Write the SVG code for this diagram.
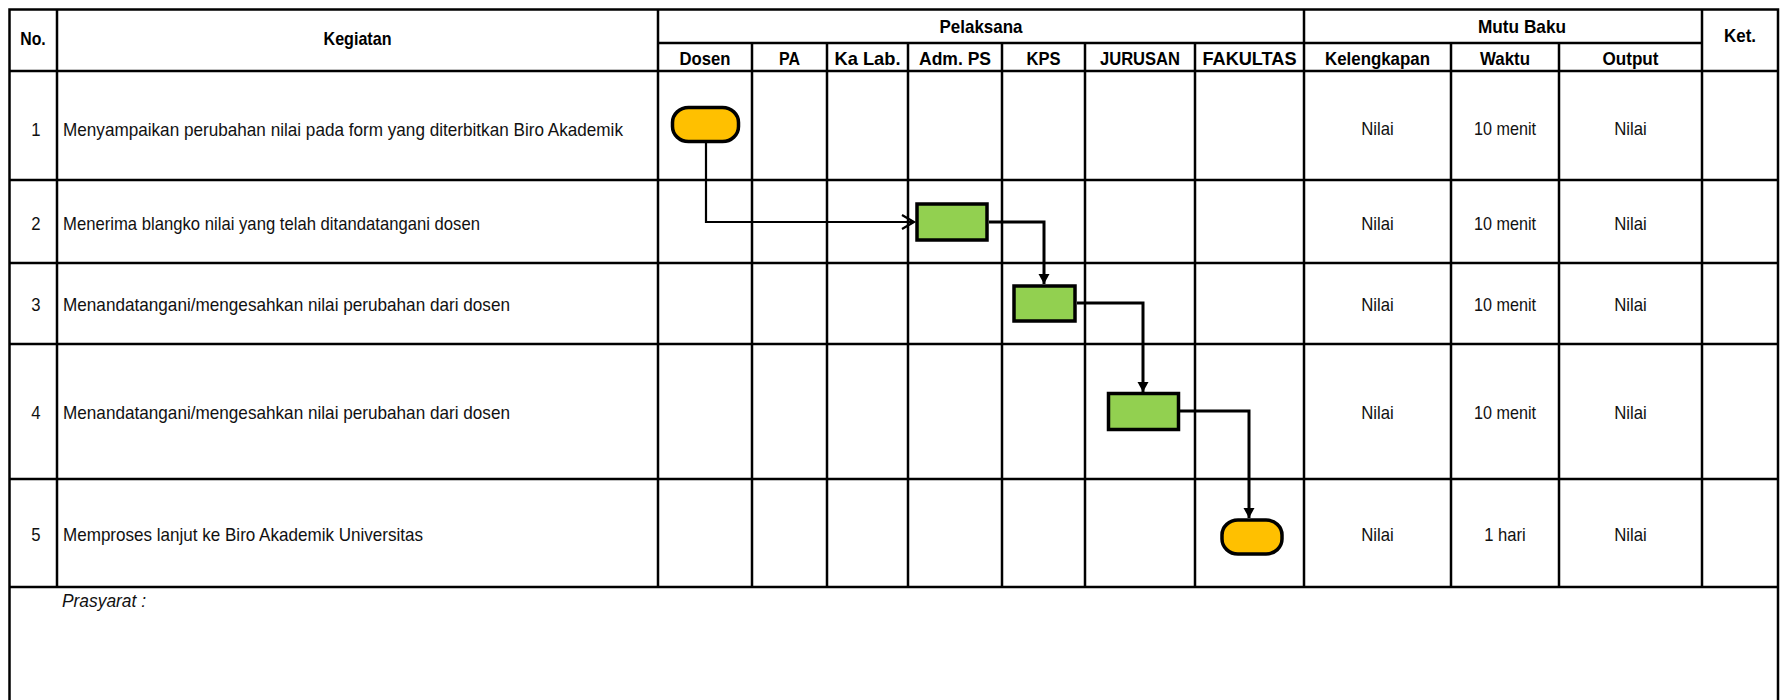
<svg xmlns="http://www.w3.org/2000/svg" width="1784" height="700" viewBox="0 0 1784 700">
<style>
.grid{stroke:#000;stroke-width:2.5;fill:none}
.t{font-family:"Liberation Sans Narrow","Liberation Sans",Arial,sans-serif;font-size:19px;fill:#111}
.b{font-weight:bold;fill:#000}
.c{text-anchor:middle}
.i{font-style:italic}
.term{fill:#FFC000;stroke:#000;stroke-width:3.5}
.proc{fill:#92D050;stroke:#000;stroke-width:3.5}
.conn{fill:none;stroke:#000;stroke-width:3}
</style>
<defs>
<marker id="open" markerUnits="userSpaceOnUse" markerWidth="16" markerHeight="18" refX="13" refY="8" orient="auto">
<path d="M1,1 L13,8 L1,15" fill="none" stroke="#000" stroke-width="2.2"/>
</marker>
<marker id="tri" markerUnits="userSpaceOnUse" markerWidth="12" markerHeight="12" refX="10" refY="5.5" orient="auto">
<path d="M0,0 L10,5.5 L0,11 Z" fill="#000"/>
</marker>
</defs>
<rect width="1784" height="700" fill="#fff"/>
<g id="table">
<path class="grid" d="M9.5,700 V9.5 H1778 V700"/>
<path class="grid" d="M658,43 H1702 M9,71 H1778 M9,180 H1778 M9,263 H1778 M9,344 H1778 M9,479 H1778 M9,587 H1778"/>
<path class="grid" d="M57,9 V587 M658,9 V587 M1304,9 V587 M1702,9 V587 M752,43 V587 M827,43 V587 M908,43 V587 M1002,43 V587 M1085,43 V587 M1195,43 V587 M1451,43 V587 M1559,43 V587"/>
</g>
<g id="headers">
<text class="t b c" x="33" y="45" textLength="25.5" lengthAdjust="spacingAndGlyphs">No.</text>
<text class="t b c" x="357.5" y="45" textLength="68" lengthAdjust="spacingAndGlyphs">Kegiatan</text>
<text class="t b c" x="981" y="33" textLength="83" lengthAdjust="spacingAndGlyphs">Pelaksana</text>
<text class="t b c" x="1522" y="33" textLength="88" lengthAdjust="spacingAndGlyphs">Mutu Baku</text>
<text class="t b c" x="1740" y="42" textLength="32" lengthAdjust="spacingAndGlyphs">Ket.</text>
<text class="t b c" x="705" y="65" textLength="51" lengthAdjust="spacingAndGlyphs">Dosen</text>
<text class="t b c" x="789.5" y="65" textLength="21" lengthAdjust="spacingAndGlyphs">PA</text>
<text class="t b c" x="867.5" y="65" textLength="66" lengthAdjust="spacingAndGlyphs">Ka Lab.</text>
<text class="t b c" x="955" y="65" textLength="72" lengthAdjust="spacingAndGlyphs">Adm. PS</text>
<text class="t b c" x="1043.5" y="65" textLength="34" lengthAdjust="spacingAndGlyphs">KPS</text>
<text class="t b c" x="1140" y="65" textLength="80" lengthAdjust="spacingAndGlyphs">JURUSAN</text>
<text class="t b c" x="1249.5" y="65" textLength="94" lengthAdjust="spacingAndGlyphs">FAKULTAS</text>
<text class="t b c" x="1377.5" y="65" textLength="105" lengthAdjust="spacingAndGlyphs">Kelengkapan</text>
<text class="t b c" x="1505" y="65" textLength="50" lengthAdjust="spacingAndGlyphs">Waktu</text>
<text class="t b c" x="1630.5" y="65" textLength="56" lengthAdjust="spacingAndGlyphs">Output</text>
</g>
<g id="row1">
<text class="t c" x="36" y="136" textLength="9.3" lengthAdjust="spacingAndGlyphs">1</text>
<text class="t" x="63" y="136" textLength="560" lengthAdjust="spacingAndGlyphs">Menyampaikan perubahan nilai pada form yang diterbitkan Biro Akademik</text>
<text class="t c" x="1377.5" y="135" textLength="32.6" lengthAdjust="spacingAndGlyphs">Nilai</text>
<text class="t c" x="1505" y="135" textLength="62" lengthAdjust="spacingAndGlyphs">10 menit</text>
<text class="t c" x="1630.5" y="135" textLength="32.6" lengthAdjust="spacingAndGlyphs">Nilai</text>
</g>
<g id="row2">
<text class="t c" x="36" y="230" textLength="9.3" lengthAdjust="spacingAndGlyphs">2</text>
<text class="t" x="63" y="230" textLength="417" lengthAdjust="spacingAndGlyphs">Menerima blangko nilai yang telah ditandatangani dosen</text>
<text class="t c" x="1377.5" y="230" textLength="32.6" lengthAdjust="spacingAndGlyphs">Nilai</text>
<text class="t c" x="1505" y="230" textLength="62" lengthAdjust="spacingAndGlyphs">10 menit</text>
<text class="t c" x="1630.5" y="230" textLength="32.6" lengthAdjust="spacingAndGlyphs">Nilai</text>
</g>
<g id="row3">
<text class="t c" x="36" y="311" textLength="9.3" lengthAdjust="spacingAndGlyphs">3</text>
<text class="t" x="63" y="311" textLength="447" lengthAdjust="spacingAndGlyphs">Menandatangani/mengesahkan nilai perubahan dari dosen</text>
<text class="t c" x="1377.5" y="311" textLength="32.6" lengthAdjust="spacingAndGlyphs">Nilai</text>
<text class="t c" x="1505" y="311" textLength="62" lengthAdjust="spacingAndGlyphs">10 menit</text>
<text class="t c" x="1630.5" y="311" textLength="32.6" lengthAdjust="spacingAndGlyphs">Nilai</text>
</g>
<g id="row4">
<text class="t c" x="36" y="419" textLength="9.3" lengthAdjust="spacingAndGlyphs">4</text>
<text class="t" x="63" y="419" textLength="447" lengthAdjust="spacingAndGlyphs">Menandatangani/mengesahkan nilai perubahan dari dosen</text>
<text class="t c" x="1377.5" y="419" textLength="32.6" lengthAdjust="spacingAndGlyphs">Nilai</text>
<text class="t c" x="1505" y="419" textLength="62" lengthAdjust="spacingAndGlyphs">10 menit</text>
<text class="t c" x="1630.5" y="419" textLength="32.6" lengthAdjust="spacingAndGlyphs">Nilai</text>
</g>
<g id="row5">
<text class="t c" x="36" y="541" textLength="9.3" lengthAdjust="spacingAndGlyphs">5</text>
<text class="t" x="63" y="541" textLength="360" lengthAdjust="spacingAndGlyphs">Memproses lanjut ke Biro Akademik Universitas</text>
<text class="t c" x="1377.5" y="541" textLength="32.6" lengthAdjust="spacingAndGlyphs">Nilai</text>
<text class="t c" x="1505" y="541" textLength="41.6" lengthAdjust="spacingAndGlyphs">1 hari</text>
<text class="t c" x="1630.5" y="541" textLength="32.6" lengthAdjust="spacingAndGlyphs">Nilai</text>
</g>
<g id="prasyarat">
<text class="t i" x="62" y="607" textLength="84" lengthAdjust="spacingAndGlyphs">Prasyarat :</text>
</g>
<g id="connectors">
<path class="conn" style="stroke-width:2.2" d="M706,143 V222 H914" marker-end="url(#open)"/>
<path class="conn" d="M989,222 H1044 V284" marker-end="url(#tri)"/>
<path class="conn" d="M1077,303 H1143 V392" marker-end="url(#tri)"/>
<path class="conn" d="M1180,411 H1249 V518" marker-end="url(#tri)"/>
</g>
<g id="node-start">
<rect class="term" x="672.5" y="107.5" width="66" height="34" rx="16" ry="15"/>
</g>
<g id="node-adm">
<rect class="proc" x="917" y="204" width="70" height="36"/>
</g>
<g id="node-kps">
<rect class="proc" x="1014" y="286" width="61" height="35"/>
</g>
<g id="node-jurusan">
<rect class="proc" x="1108.5" y="393.5" width="70" height="36"/>
</g>
<g id="node-end">
<rect class="term" x="1222" y="520" width="60" height="34" rx="16" ry="15"/>
</g>
</svg>
